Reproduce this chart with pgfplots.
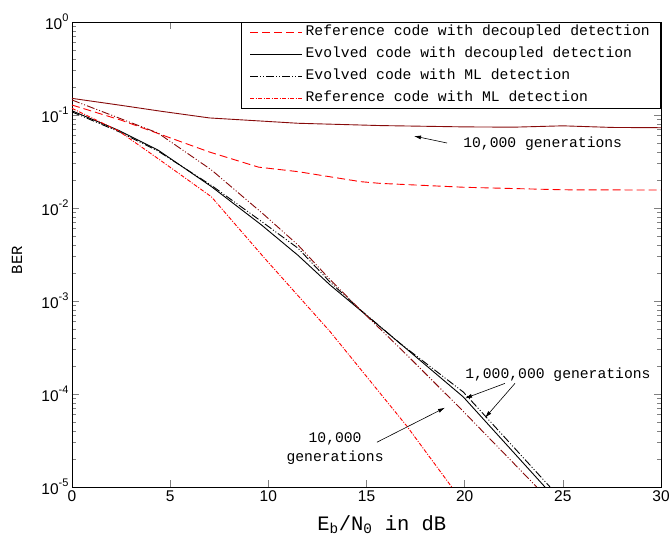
\documentclass[border=0pt]{standalone}
\usepackage{fontspec}
\setmainfont{Liberation Sans}
\setsansfont{Liberation Sans}
\setmonofont{Liberation Mono}
\usepackage{pgfplots}
\pgfplotsset{compat=1.18}
\usetikzlibrary{arrows.meta}
\definecolor{dred}{RGB}{135,10,10}
\definecolor{pred}{RGB}{255,0,0}
\newcommand\tl[1]{10\raisebox{0.5em}{\fontsize{11}{11}\selectfont #1}}
\newcommand\mono{\ttfamily\fontsize{14.7}{19}\selectfont}
\begin{document}
\begin{tikzpicture}
\useasboundingbox (-72pt,-51pt) rectangle (599pt,487pt);
\begin{axis}[
  at={(0pt,0pt)}, anchor=south west,
  scale only axis, width=589pt, height=465pt,
  xmin=0, xmax=30, ymin=1e-5, ymax=1, ymode=log,
  clip mode=individual,
  xtick={0,5,...,30},
  ytick={1e-5,1e-4,1e-3,1e-2,1e-1,1},
  yticklabels={\tl{-5},\tl{-4},\tl{-3},\tl{-2},\tl{-1},\tl{0}},
  /pgf/number format/assume math mode=true,
  tick align=inside, major tick length=7pt, minor tick length=4pt,
  ticklabel style={font=\sffamily\fontsize{15.5}{16}\selectfont},
  axis line style={line width=0.8pt},
  tick style={line width=0.6pt},
  xlabel={E\textsubscript{b}/N\textsubscript{0} in dB},
  xlabel style={font=\ttfamily\fontsize{20.5}{22}\selectfont, at={(axis description cs:0.526,-0.0817)}, anchor=center},
  ylabel={BER},
  ylabel style={font=\ttfamily\fontsize{15.5}{16}\selectfont, at={(axis description cs:-0.0934,0.488)}, anchor=center},
  legend style={at={(1,1)}, anchor=north east, draw, line width=0.6pt,
    font=\mono, inner xsep=8pt, inner ysep=1pt, row sep=4pt,
    nodes={inner sep=3pt, text height=9pt, text depth=3pt}},
  legend cell align=left,
  legend image code/.code={\draw[#1] (0pt,0pt) -- (52pt,0pt);},
]
% Reference code with decoupled detection
\addplot[pred, line width=0.9pt, dash pattern=on 8pt off 4pt] coordinates {
 (0,0.128) (2.5,0.088) (4.5,0.062) (7,0.040) (9.5,0.0275) (11.51,0.0246)
 (14.7,0.0192) (15.7,0.0184) (20,0.0167) (25,0.0157) (30,0.0156)};
\addlegendentry{Reference code with decoupled detection}
% Evolved code with decoupled detection (1,000,000 gen)
\addplot[black, line width=0.9pt] coordinates {
 (0,0.111) (2.4,0.068) (4.38,0.042) (7.1,0.017) (9.64,0.0066) (11.51,0.0031)
 (13.14,0.00149) (16.71,3.5e-4) (19.93,9.3e-5) (24.09,1e-5)};
\addlegendentry{Evolved code with decoupled detection}
% Evolved code with ML detection (1,000,000 gen)
\addplot[black, line width=0.9pt, dash pattern=on 8pt off 2pt on 1pt off 2pt on 1pt off 2pt] coordinates {
 (0,0.108) (2.4,0.066) (4.38,0.041) (7.1,0.0175) (9.64,0.0072) (11.51,0.0037)
 (13.14,0.0016) (14.7,8.0e-4) (16.71,3.5e-4) (19.93,1.05e-4) (24.35,1e-5)};
\addlegendentry{Evolved code with ML detection}
% Reference code with ML detection
\addplot[pred, line width=0.9pt, dash pattern=on 4pt off 1.5pt on 1pt off 1.5pt] coordinates {
 (0,0.118) (2.35,0.068) (4.38,0.034) (7.1,0.0132) (9.8,0.0029) (13.14,4.7e-4)
 (17.06,4.5e-5) (19.34,1e-5)};
\addlegendentry{Reference code with ML detection}
% Evolved code with decoupled detection (10,000 gen)
\addplot[dred, line width=0.9pt, forget plot] coordinates {
 (0,0.151) (2.5,0.127) (4.5,0.11) (7,0.093) (11.51,0.0815) (15.7,0.077)
 (20,0.0745) (22.5,0.074) (25,0.0765) (27.5,0.0735) (30,0.073)};
% Evolved code with ML detection (10,000 gen)
\addplot[dred, line width=0.9pt, dash pattern=on 8pt off 2pt on 1pt off 2pt on 1pt off 2pt, forget plot] coordinates {
 (0,0.145) (4.38,0.064) (7.1,0.0257) (9.8,0.0084) (11.51,0.004) (13.14,0.0017)
 (14.7,8.0e-4) (17,2.7e-4) (19.93,6.5e-5) (23.67,1e-5)};
% annotations
\node[font=\mono, anchor=west, inner sep=0pt] at (axis cs:19.92,0.0488) {10,000 generations};
\draw[-{Latex[length=7pt,width=4pt]}, line width=0.6pt] (axis cs:19.10,0.0500) -- (axis cs:17.42,0.0594);
\node[font=\mono, anchor=west, inner sep=0pt] at (axis cs:20.02,1.63e-4) {1,000,000 generations};
\draw[-{Latex[length=7pt,width=4pt]}, line width=0.6pt] (axis cs:22.05,1.30e-4) -- (axis cs:20.02,8.99e-5);
\draw[-{Latex[length=7pt,width=4pt]}, line width=0.6pt] (axis cs:22.56,1.30e-4) -- (axis cs:21.04,5.56e-5);
\node[font=\mono, align=center, inner sep=0pt] at (axis cs:13.40,2.59e-5) {10,000\\generations};
\draw[-{Latex[length=7pt,width=4pt]}, line width=0.6pt] (axis cs:15.53,3.03e-5) -- (axis cs:19.0,7.13e-5);
\end{axis}
\end{tikzpicture}
\end{document}
